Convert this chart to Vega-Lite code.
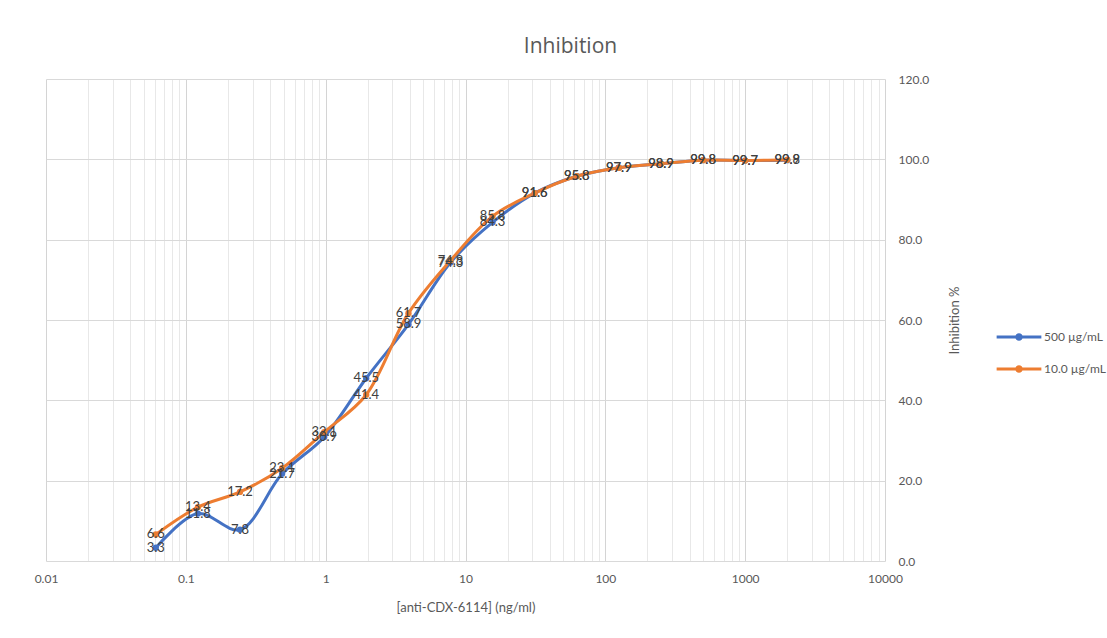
{
  "$schema": "https://vega.github.io/schema/vega-lite/v6.json",
  "width": 839,
  "height": 482,
  "autosize": "none",
  "padding": {"left": 46, "top": 79, "right": 222, "bottom": 77},
  "background": "white",
  "title": {"text": "Inhibition", "fontSize": 21, "font": "Open Sans", "fontWeight": "normal", "color": "#595959", "anchor": "middle", "dx": 105, "offset": 16},
  "config": {"view": {"stroke": null}, "font": "Lato"},
  "data": {
    "values": [
      {"conc": 0.061, "series": "500 µg/mL", "value": 3.3},
      {"conc": 0.122, "series": "500 µg/mL", "value": 11.8},
      {"conc": 0.244, "series": "500 µg/mL", "value": 7.8},
      {"conc": 0.488, "series": "500 µg/mL", "value": 21.7},
      {"conc": 0.977, "series": "500 µg/mL", "value": 30.9},
      {"conc": 1.95, "series": "500 µg/mL", "value": 45.5},
      {"conc": 3.91, "series": "500 µg/mL", "value": 58.9},
      {"conc": 7.81, "series": "500 µg/mL", "value": 74.3},
      {"conc": 15.6, "series": "500 µg/mL", "value": 84.3},
      {"conc": 31.25, "series": "500 µg/mL", "value": 91.6},
      {"conc": 62.5, "series": "500 µg/mL", "value": 95.8},
      {"conc": 125, "series": "500 µg/mL", "value": 97.9},
      {"conc": 250, "series": "500 µg/mL", "value": 98.9},
      {"conc": 500, "series": "500 µg/mL", "value": 99.8},
      {"conc": 1000, "series": "500 µg/mL", "value": 99.7},
      {"conc": 2000, "series": "500 µg/mL", "value": 99.8},
      {"conc": 0.061, "series": "10.0 µg/mL", "value": 6.6},
      {"conc": 0.122, "series": "10.0 µg/mL", "value": 13.4},
      {"conc": 0.244, "series": "10.0 µg/mL", "value": 17.2},
      {"conc": 0.488, "series": "10.0 µg/mL", "value": 23.1},
      {"conc": 0.977, "series": "10.0 µg/mL", "value": 32.1},
      {"conc": 1.95, "series": "10.0 µg/mL", "value": 41.4},
      {"conc": 3.91, "series": "10.0 µg/mL", "value": 61.7},
      {"conc": 7.81, "series": "10.0 µg/mL", "value": 74.8},
      {"conc": 15.6, "series": "10.0 µg/mL", "value": 85.8},
      {"conc": 31.25, "series": "10.0 µg/mL", "value": 91.6},
      {"conc": 62.5, "series": "10.0 µg/mL", "value": 95.8},
      {"conc": 125, "series": "10.0 µg/mL", "value": 97.9},
      {"conc": 250, "series": "10.0 µg/mL", "value": 98.9},
      {"conc": 500, "series": "10.0 µg/mL", "value": 99.8},
      {"conc": 1000, "series": "10.0 µg/mL", "value": 99.7},
      {"conc": 2000, "series": "10.0 µg/mL", "value": 99.9}
    ]
  },
  "encoding": {
    "x": {
      "field": "conc",
      "type": "quantitative",
      "scale": {"type": "log", "domain": [0.01, 10000], "nice": false},
      "axis": {
        "values": [0.01,0.02,0.03,0.04,0.05,0.06,0.07,0.08,0.09,0.1,0.2,0.3,0.4,0.5,0.6,0.7,0.8,0.9,1,2,3,4,5,6,7,8,9,10,20,30,40,50,60,70,80,90,100,200,300,400,500,600,700,800,900,1000,2000,3000,4000,5000,6000,7000,8000,9000,10000],
        "format": "~g",
        "labelExpr": "abs(log(datum.value)/LN10 - round(log(datum.value)/LN10)) < 0.001 ? datum.label : ''",
        "grid": true,
        "gridColor": {"condition": {"test": "abs(log(datum.value)/LN10 - round(log(datum.value)/LN10)) < 0.001", "value": "#D4D4D4"}, "value": "#E8E8E8"},
        "domain": false,
        "ticks": false,
        "labelPadding": 12,
        "labelFontSize": 12,
        "labelColor": "#595959",
        "labelOverlap": false,
        "labelFlush": false,
        "labelBound": false,
        "title": "[anti-CDX-6114] (ng/ml)",
        "titleFontSize": 13,
        "titleFontWeight": "normal",
        "titleColor": "#595959",
        "titleY": 46,
        "titleBaseline": "middle"
      }
    },
    "y": {
      "field": "value",
      "type": "quantitative",
      "scale": {"domain": [0, 120], "nice": false},
      "axis": {
        "orient": "right",
        "values": [0, 20, 40, 60, 80, 100, 120],
        "format": ".1f",
        "grid": true,
        "gridColor": "#D9D9D9",
        "domain": false,
        "ticks": false,
        "labelPadding": 13,
        "labelFontSize": 12,
        "labelColor": "#595959",
        "title": "Inhibition %",
        "titleFontSize": 13,
        "titleFontWeight": "normal",
        "titleColor": "#595959",
        "titleAngle": 270,
        "titleX": 69,
        "titleY": 241,
        "titleAlign": "center",
        "titleBaseline": "middle"
      }
    },
    "color": {
      "field": "series",
      "type": "nominal",
      "scale": {"domain": ["500 µg/mL", "10.0 µg/mL"], "range": ["#4472C4", "#ED7D31"]},
      "legend": {
        "title": null,
        "orient": "none",
        "legendX": 960,
        "legendY": 245,
        "padding": 0,
        "symbolType": "M-2,0L2,0M0.2,0A0.2,0.2,0,1,1,-0.2,0A0.2,0.2,0,1,1,0.2,0Z",
        "symbolSize": 500,
        "symbolStrokeWidth": 3,
        "labelOffset": 12,
        "labelFontSize": 12,
        "labelColor": "#595959",
        "rowPadding": 10
      }
    }
  },
  "layer": [
    {"mark": {"type": "line", "strokeWidth": 3, "interpolate": "catmull-rom"}},
    {"mark": {"type": "point", "filled": true, "size": 40, "opacity": 1}},
    {
      "mark": {"type": "text", "fontSize": 13, "color": "#404040", "align": "center", "baseline": "middle"},
      "encoding": {"text": {"field": "value", "type": "quantitative", "format": ".1f"}, "color": {"value": "#404040"}}
    }
  ]
}
